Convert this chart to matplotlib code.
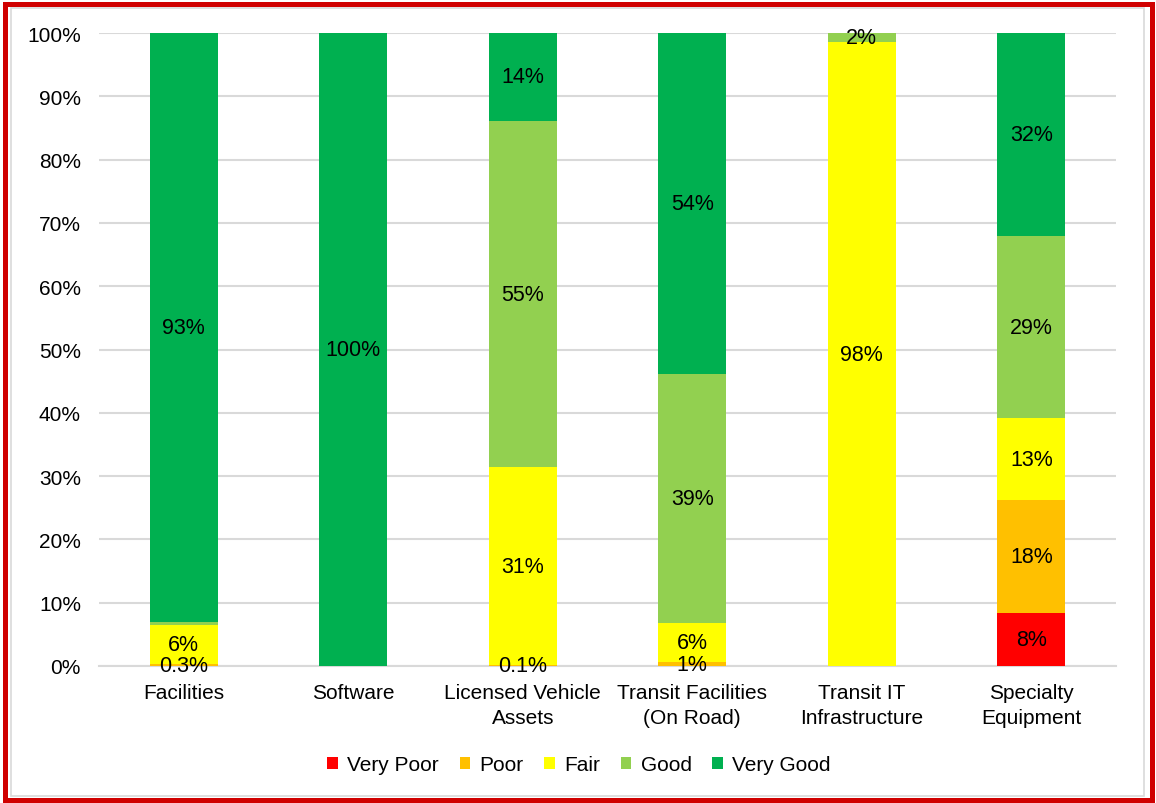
import matplotlib
matplotlib.use("Agg")
import matplotlib.pyplot as plt
from matplotlib.patches import Rectangle
import numpy as np

plt.rcParams['font.family'] = ['Liberation Sans', 'DejaVu Sans']

categories = ["Facilities", "Software", "Licensed Vehicle\nAssets",
              "Transit Facilities\n(On Road)", "Transit IT\nInfrastructure",
              "Specialty\nEquipment"]
series_names = ["Very Poor", "Poor", "Fair", "Good", "Very Good"]
very_poor = [0.0, 0.0, 0.0, 0.0, 0.0, 8.4]
poor = [0.3, 0.0, 0.1, 0.6, 0.0, 17.8]
fair = [6.2, 0.0, 31.3, 6.2, 98.5, 13.0]
good = [0.5, 0.0, 54.7, 39.3, 1.5, 28.7]
very_good = [93.0, 100.0, 13.9, 53.9, 0.0, 32.1]

# Labels shown inside each segment ("" = no label)
very_poor_labels = ["", "", "", "", "", "8%"]
poor_labels = ["0.3%", "", "0.1%", "1%", "", "18%"]
fair_labels = ["6%", "", "31%", "6%", "98%", "13%"]
good_labels = ["", "", "55%", "39%", "2%", "29%"]
very_good_labels = ["93%", "100%", "14%", "54%", "", "32%"]

colors = ["#FF0000", "#FFC000", "#FFFF00", "#92D050", "#00B050"]
y_ticks = list(range(0, 101, 10))

W, H = 1156, 804
fig = plt.figure(figsize=(W / 100, H / 100), dpi=100)
ax = fig.add_axes([99 / W, 1 - 667 / H, 1017 / W, 633 / H])

x = np.arange(len(categories))
series = [very_poor, poor, fair, good, very_good]
labels = [very_poor_labels, poor_labels, fair_labels, good_labels, very_good_labels]
bottom = np.zeros(len(categories))
for name, vals, col, labs in zip(series_names, series, colors, labels):
    vals = np.array(vals)
    bars = ax.bar(x, vals, width=0.4, bottom=bottom, color=col, label=name,
                  zorder=3, linewidth=0)
    ax.bar_label(bars, labels=labs, label_type="center", fontsize=15.5,
                 color="black", zorder=4)
    bottom += vals

ax.set_xlim(-0.5, len(categories) - 0.5)
ax.set_ylim(0, 100)
ax.set_yticks(y_ticks)
ax.set_yticklabels([f"{t}%" for t in y_ticks], fontsize=15)
ax.set_xticks(x)
ax.set_xticklabels(categories, fontsize=15, linespacing=1.38)
ax.tick_params(axis="x", length=0, pad=12.5)
ax.tick_params(axis="y", length=0, pad=13)
ax.yaxis.grid(True, color="#D9D9D9", linewidth=1.5, zorder=0)
for s in ["top", "right", "left"]:
    ax.spines[s].set_visible(False)
ax.spines["bottom"].set_color("#D9D9D9")
ax.spines["bottom"].set_linewidth(1.5)

ax.legend(loc="center", bbox_to_anchor=(579 / W, 1 - 766 / H),
          bbox_transform=fig.transFigure, ncol=5, frameon=False, fontsize=15,
          handlelength=0.5, handleheight=0.5, handletextpad=0.45,
          columnspacing=1.0)

# Outer red frame and inner light grey frame
fig.patches.append(Rectangle((4.5 / W, 3.5 / H), (W - 9) / W, (H - 8) / H,
                             transform=fig.transFigure, fill=False,
                             edgecolor="#D00000", linewidth=3.6))
fig.patches.append(Rectangle((10.5 / W, 7.5 / H), (W - 23) / W, (H - 16) / H,
                             transform=fig.transFigure, fill=False,
                             edgecolor="#D9D9D9", linewidth=1.2))

fig.savefig("out.png", dpi=100)
